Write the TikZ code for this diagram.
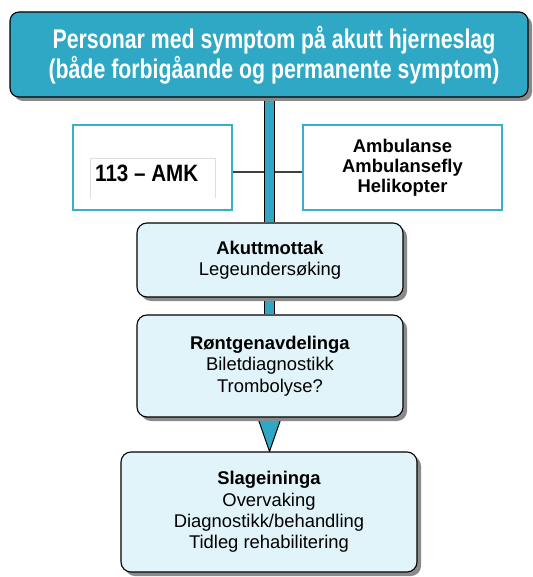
\documentclass[tikz,border=0pt]{standalone}
\usepackage{fontspec}
\setmainfont{Liberation Sans}
\usetikzlibrary{shadows,calc,backgrounds}
\definecolor{tealfill}{HTML}{2FA8C5}
\definecolor{tealedge}{HTML}{3AAFCB}
\definecolor{paleblue}{HTML}{E1F4FA}
\definecolor{shadowgray}{HTML}{8A8A8A}
\definecolor{linkgray}{HTML}{404040}
% taller lettering for the header and the phone number
\newcommand\tallrows[2]{\scalebox{1}[#1]{\begin{tabular}{@{}c@{}}#2\end{tabular}}}
\tikzset{
  x=1pt, y=-1pt,
  stageshadow/.style={drop shadow={shadow xshift=4pt, shadow yshift=-4pt, fill=shadowgray, opacity=1}},
  headbox/.style={draw=black, line width=1.1pt, fill=tealfill, rounded corners=9pt,
    inner sep=0pt, stageshadow},
  headtext/.style={text=white, font=\fontsize{21.3}{20.5}\selectfont\bfseries, inner sep=0pt},
  sidebox/.style={draw=tealedge, line width=2pt, fill=white, inner sep=0pt, align=center,
    font=\fontsize{18.4}{20}\selectfont\bfseries},
  stagebox/.style={draw=black, line width=1.1pt, fill=paleblue, rounded corners=10pt,
    align=center, inner sep=0pt, font=\fontsize{18.4}{21.3}\selectfont, stageshadow},
  trunk/.style={draw=black, line width=1.2pt, double=tealfill, double distance=8.5pt},
  sidelink/.style={draw=linkgray, line width=1.3pt},
}
\begin{document}
\begin{tikzpicture}
\useasboundingbox (0,0) rectangle (532,577);

% header
\node[headbox, minimum width=518pt, minimum height=85pt] (head) at (269,54.5) {};
\node[headtext] (headlabel) at (274,56)
  {\tallrows{1.27}{Personar med symptom på akutt hjerneslag\\(både forbigåande og permanente symptom)}};

% alarm and transport boxes
\node[sidebox, minimum width=159pt, minimum height=85pt] (amk) at (152.5,167.5) {};
\draw[draw=black!13, line width=1pt] (90,198) -- (90,159) -- (215,159) -- (215,198);
\node[anchor=base west, font=\fontsize{20.6}{21}\selectfont\bfseries, inner sep=0pt]
  (amktext) at (95,181.5) {\scalebox{1}[1.15]{113 – AMK}};
\node[sidebox, minimum width=199pt, minimum height=85pt] (transport) at (402.5,167.5)
  {Ambulanse\\Ambulansefly\\Helikopter};

% stages
\node[stagebox, minimum width=266pt, minimum height=74pt] (akutt) at (270,260)
  {\textbf{Akuttmottak}\\Legeundersøking};
\node[stagebox, minimum width=266pt, minimum height=102pt] (ront) at (270,366)
  {\textbf{Røntgenavdelinga}\\Biletdiagnostikk\\Trombolyse?};
\node[stagebox, minimum width=296pt, minimum height=120pt] (slage) at (269,512)
  {\textbf{Slageininga}\\Overvaking\\Diagnostikk/behandling\\Tidleg rehabilitering};

\coordinate (trunktop) at (269.5,96);
\coordinate (trunkjoin) at (269.5,172);

\begin{scope}[on background layer]
  % main trunk
  \draw[trunk] (trunktop) -- (trunktop |- akutt.north);
  \draw[trunk] (trunktop |- akutt.south) -- (trunktop |- ront.north);
  % side links
  \draw[sidelink] (amk.east |- trunkjoin) -- ($(trunkjoin)+(-5.5,0)$);
  \draw[sidelink] ($(trunkjoin)+(5.5,0)$) -- (transport.west |- trunkjoin);
  % arrow into the stroke unit
  \draw[fill=tealfill, draw=black, line width=1pt, line join=miter]
    ($(trunktop |- ront.south)+(-12.5,-2)$) -- ($(trunktop |- ront.south)+(12.5,-2)$)
    -- (trunktop |- slage.north) -- cycle;
\end{scope}
\end{tikzpicture}
\end{document}
